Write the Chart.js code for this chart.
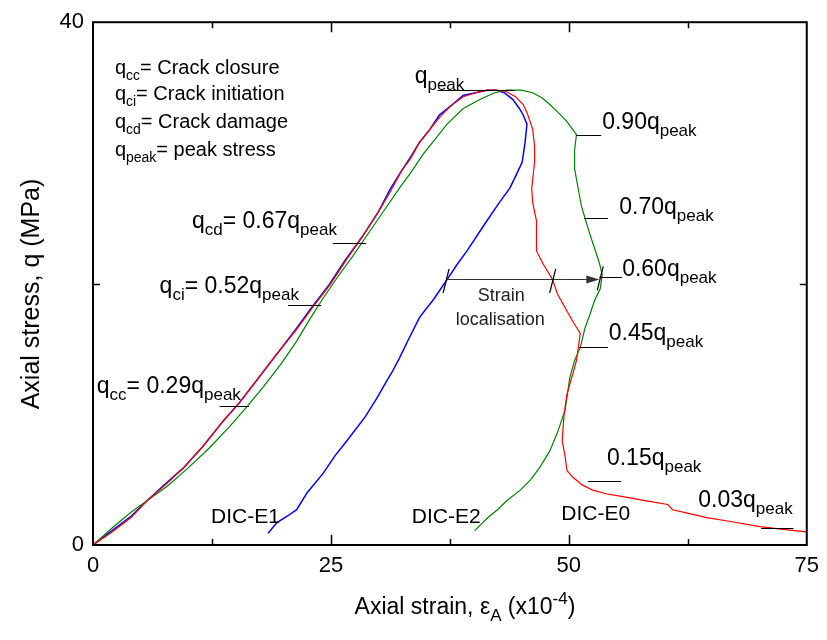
<!DOCTYPE html>
<html>
<head>
<meta charset="utf-8">
<script src="https://cdn.jsdelivr.net/npm/chart.js@4.4.1/dist/chart.umd.min.js"></script>
<style>
    html, body { margin: 0; padding: 0; background: #fff; }
    #box { width: 827px; height: 640px; }
</style>
</head>
<body>
<div id="box"><canvas id="myChart" width="827" height="640"></canvas></div>
<script>
// DIC-E1 (blue)
const e1X = [0, 2, 4, 5.7, 7.5, 9.5, 11.5, 13.7, 15.4, 17.2, 19.2, 21.2, 23, 24.8, 26.5, 28.3, 30, 31.2, 32.4, 33.3,
    34.3, 35.4, 36.4, 37.6, 38.9, 40.2, 41.4, 42.4, 43.2, 44.1, 44.8, 45.2, 45.6, 45.4, 45.1, 44.4, 43.8, 42.6, 41.2,
    39.3, 38.2, 37.2, 35.8, 34.3, 33.2, 32.2, 31.4, 30.9, 29.8, 28.6, 26.7, 25.4, 24.2, 22.5, 21.4, 20.4, 19.3, 18.4];
const e1Y = [0, 1.1, 2.2, 3.4, 4.6, 5.9, 7.5, 9.5, 10.9, 12.6, 14.5, 16.4, 18.2, 19.9, 21.8, 23.6, 25.5, 27.2, 28.6, 29.6,
    30.8, 31.8, 32.9, 33.6, 34.4, 34.6, 34.8, 34.8, 34.6, 34.1, 33.4, 32.9, 32.2, 30.8, 29.3, 28.2, 27.3, 26.1, 24.6,
    22.5, 21.4, 20.3, 18.8, 17.4, 15.8, 14.3, 13.2, 12.6, 11.2, 9.8, 8.0, 6.8, 5.5, 4.0, 2.7, 2.2, 1.7, 0.9];

// DIC-E0 (red)
const e0X = [0, 2, 4, 5.7, 7.6, 9.5, 11.6, 13.7, 15.4, 17.2, 19.2, 21.3, 23.1, 24.9, 26.6, 28.3, 30, 31.3, 32.4, 33.4,
    34.3, 35.4, 36.5, 37.6, 38.9, 40.2, 41.4, 42.4, 43.4, 44.4, 45.2, 45.6, 46.2, 46.4, 46.4, 46.1, 46.2, 46.6, 46.6,
    47.3, 48.3, 48.8, 49.8, 50.5, 51.2, 50.8, 50.3, 49.8, 49.5, 49.3, 49.6, 49.8, 50.4, 51.4, 52.5, 54, 55.7, 58,
    60.4, 60.9, 62.7, 64.5, 67, 70.1, 72.5, 75];
const e0Y = [0, 1.0, 2.1, 3.4, 4.6, 5.9, 7.6, 9.5, 10.9, 12.6, 14.5, 16.4, 18.2, 19.9, 21.8, 23.6, 25.5, 27.1, 28.6, 29.6,
    30.8, 31.8, 32.8, 33.6, 34.3, 34.6, 34.8, 34.8, 34.7, 34.3, 33.7, 33.1, 31.8, 30.5, 29.3, 27.3, 26.2, 24.8, 22.5,
    21.5, 20.3, 19.2, 17.9, 17.0, 16.2, 14.1, 12.8, 11.5, 10.0, 8.0, 6.8, 5.7, 5.2, 4.6, 4.2, 3.9, 3.7, 3.4,
    3.1, 2.7, 2.4, 2.1, 1.8, 1.4, 1.2, 1.0];

// DIC-E2 (green)
const e2X = [0, 2, 4, 5.7, 7.8, 10, 12.2, 14.4, 16.2, 17.9, 19.8, 21.4, 22.8, 24.2, 25.8, 27.3, 28.8, 30.4, 32.2, 33.5,
    34.7, 36, 37.2, 38.9, 40.7, 42.2, 43.5, 45, 46.2, 47.2, 48, 49, 49.8, 50.8, 50.6, 50.6, 51, 51.3, 51.7, 52.2,
    52.7, 53.2, 53.5, 53.3, 52.7, 52.2, 51.7, 51.2, 50.6, 50.1, 49.6, 48.8, 48, 47, 46, 44.9, 43.5, 42.5, 41.5, 40.8, 40.1];
const e2Y = [0, 1.3, 2.5, 3.4, 4.5, 5.9, 7.4, 9.1, 10.6, 12.1, 13.9, 15.6, 17.3, 18.9, 20.6, 22.1, 23.7, 25.4, 27.3, 28.6,
    29.9, 31.1, 32.2, 33.4, 34.1, 34.6, 34.8, 34.8, 34.6, 34.2, 33.7, 33.0, 32.4, 31.4, 30.2, 28.8, 27.2, 26.0, 25.0, 23.8,
    22.7, 21.6, 20.7, 19.6, 18.7, 17.6, 16.6, 15.1, 14.1, 12.8, 10.3, 8.6, 7.2, 6.0, 5.0, 4.2, 3.4, 2.7, 2.1, 1.6, 1.1];

const xTicks = [0, 25, 50, 75];
const yTicks = [0, 20, 40];
const yLabels = ['0', '', '40'];

const FONT = '"Liberation Sans", Arial, sans-serif';

function pts(xs, ys) {
    return xs.map((x, i) => ({x: x, y: ys[i]}));
}

// text with sub/superscripts: parts = [[text, 0 normal | 1 sub | 2 sup], ...]
function richWidth(c, parts, size) {
    let w = 0;
    parts.forEach(p => {
        c.font = (p[1] ? Math.round(size * 0.72) : size) + 'px ' + FONT;
        w += c.measureText(p[0]).width;
    });
    return w;
}

function drawRich(c, x, y, parts, size) {
    let cx = x;
    c.textAlign = 'left';
    c.textBaseline = 'alphabetic';
    parts.forEach(p => {
        let s = p[1] ? Math.round(size * 0.72) : size;
        let dy = p[1] === 1 ? size * 0.3 : (p[1] === 2 ? -size * 0.42 : 0);
        c.font = s + 'px ' + FONT;
        c.fillText(p[0], cx, y + dy);
        cx += c.measureText(p[0]).width;
    });
}

const legendLines = [
    [['q', 0], ['cc', 1], ['= Crack closure', 0]],
    [['q', 0], ['ci', 1], ['= Crack initiation', 0]],
    [['q', 0], ['cd', 1], ['= Crack damage', 0]],
    [['q', 0], ['peak', 1], ['= peak stress', 0]]
];

const notes = [
    {x: 33.8, y: 35.35, size: 23, parts: [['q', 0], ['peak', 1]]},
    {x: 53.5, y: 31.85, size: 23, parts: [['0.90q', 0], ['peak', 1]]},
    {x: 55.3, y: 25.3, size: 23, parts: [['0.70q', 0], ['peak', 1]]},
    {x: 55.6, y: 20.57, size: 23, parts: [['0.60q', 0], ['peak', 1]]},
    {x: 54.2, y: 15.7, size: 23, parts: [['0.45q', 0], ['peak', 1]]},
    {x: 54.0, y: 6.1, size: 23, parts: [['0.15q', 0], ['peak', 1]]},
    {x: 63.6, y: 2.9, size: 23, parts: [['0.03q', 0], ['peak', 1]]},
    {x: 10.4, y: 24.23, size: 23, parts: [['q', 0], ['cd', 1], ['= 0.67q', 0], ['peak', 1]]},
    {x: 7.0, y: 19.28, size: 23, parts: [['q', 0], ['ci', 1], ['= 0.52q', 0], ['peak', 1]]},
    {x: 0.4, y: 11.66, size: 23, parts: [['q', 0], ['cc', 1], ['= 0.29q', 0], ['peak', 1]]},
    {x: 12.4, y: 1.68, size: 21, parts: [['DIC-E1', 0]]},
    {x: 33.5, y: 1.68, size: 21, parts: [['DIC-E2', 0]]},
    {x: 49.2, y: 1.9, size: 21, parts: [['DIC-E0', 0]]}
];

// leader lines [x1, x2, y]
const leaders = [
    [36.2, 44.3, 34.82], [50.8, 53.4, 31.39], [51.6, 54.1, 24.99], [53.2, 55.6, 20.5],
    [51.1, 54.1, 15.16], [52.0, 55.5, 4.88], [70.2, 73.6, 1.3],
    [25.2, 28.7, 23.09], [20.5, 24.0, 18.36], [13.3, 16.4, 10.67]
];

const arrowFrom = [37.1, 20.34];
const arrowTo = [53.2, 20.34];
const slashes = [[37.1, 20.2], [48.3, 20.2], [53.3, 20.4]];

const decorPlugin = {
    id: 'decor',
    afterDraw(chart) {
        const c = chart.ctx;
        const xs = chart.scales.x, ys = chart.scales.y;
        const a = chart.chartArea;
        const px = v => xs.getPixelForValue(v);
        const py = v => ys.getPixelForValue(v);
        c.save();
        c.fillStyle = '#000';
        c.strokeStyle = '#000';

        // frame
        c.lineWidth = 2;
        c.strokeRect(a.left, a.top, a.right - a.left, a.bottom - a.top);

        // inner ticks, mirrored on top and right
        c.lineWidth = 1.5;
        c.beginPath();
        [12.5, 25, 37.5, 50, 62.5].forEach(v => {
            let len = (v % 25 === 0) ? 10 : 6;
            let x = Math.round(px(v)) + 0.5;
            c.moveTo(x, a.bottom); c.lineTo(x, a.bottom - len);
            c.moveTo(x, a.top); c.lineTo(x, a.top + len);
        });
        let y20 = Math.round(py(20)) + 0.5;
        c.moveTo(a.left, y20); c.lineTo(a.left + 7, y20);
        c.moveTo(a.right, y20); c.lineTo(a.right - 7, y20);
        c.stroke();

        // legend block
        legendLines.forEach((l, i) => drawRich(c, px(2.3), [74, 100, 128, 156][i], l, 20));

        // annotations
        notes.forEach(n => drawRich(c, px(n.x), py(n.y), n.parts, n.size));
        c.lineWidth = 1;
        c.beginPath();
        leaders.forEach(l => {
            let y = Math.round(py(l[2])) + 0.5;
            c.moveTo(px(l[0]), y); c.lineTo(px(l[1]), y);
        });
        c.stroke();

        // strain localisation arrow
        c.strokeStyle = '#333';
        c.fillStyle = '#333';
        c.lineWidth = 1.2;
        let ay = Math.round(py(arrowFrom[1])) + 0.5;
        let tip = px(arrowTo[0]);
        c.beginPath();
        c.moveTo(px(arrowFrom[0]), ay); c.lineTo(tip - 10, ay);
        c.stroke();
        c.beginPath();
        c.moveTo(tip, ay); c.lineTo(tip - 13, ay - 4); c.lineTo(tip - 13, ay + 4); c.closePath();
        c.fill();
        c.strokeStyle = '#000';
        c.beginPath();
        slashes.forEach(s => {
            let sx = px(s[0]), sy = py(s[1]);
            c.moveTo(sx - 3, sy + 12); c.lineTo(sx + 3, sy - 12);
        });
        c.stroke();
        c.fillStyle = '#222';
        c.font = '18px ' + FONT;
        c.textAlign = 'center';
        c.fillText('Strain', px(42.9), py(18.67));
        c.fillText('localisation', px(42.8), py(16.84));

        // axis titles
        c.fillStyle = '#000';
        const xt = [['Axial strain, \u03b5', 0], ['A', 1], [' (x10', 0], ['-4', 2], [')', 0]];
        let w = richWidth(c, xt, 23);
        drawRich(c, 465 - w / 2, 614, xt, 23);
        c.translate(39, 294);
        c.rotate(-Math.PI / 2);
        c.font = '25px ' + FONT;
        c.textAlign = 'center';
        c.fillText('Axial stress, q (MPa)', 0, 0);
        c.restore();
    }
};

const ctx = document.getElementById('myChart');

new Chart(ctx, {
    type   : 'scatter',
    data   : {
        datasets: [
            {label: 'DIC-E0', data: pts(e0X, e0Y), borderColor: '#ff0000', borderWidth: 1.2},
            {label: 'DIC-E2', data: pts(e2X, e2Y), borderColor: '#008000', borderWidth: 1.2},
            {label: 'DIC-E1', data: pts(e1X, e1Y), borderColor: '#0000ff', borderWidth: 1.5}
        ].map(d => Object.assign(d, {showLine: true, pointRadius: 0, tension: 0, fill: false}))
    },
    options: {
        responsive: false,
        animation : false,
        layout    : {padding: {left: 0, right: 19, top: 20, bottom: 0}},
        plugins   : {legend: {display: false}, tooltip: {enabled: false}},
        scales    : {
            x: {
                type: 'linear', min: 0, max: 75,
                afterBuildTicks: s => { s.ticks = xTicks.map(v => ({value: v})); },
                afterFit: s => { s.height = 95; },
                grid: {display: false, drawTicks: false},
                border: {display: false},
                ticks: {color: '#000', padding: 8, maxRotation: 0, font: {family: FONT, size: 22}}
            },
            y: {
                type: 'linear', min: 0, max: 40,
                afterBuildTicks: s => { s.ticks = yTicks.map(v => ({value: v})); },
                afterFit: s => { s.width = 93; },
                grid: {display: false, drawTicks: false},
                border: {display: false},
                ticks: {color: '#000', padding: 9, font: {family: FONT, size: 22},
                    callback: (v) => yLabels[yTicks.indexOf(v)]}
            }
        }
    },
    plugins: [decorPlugin]
});
</script>
</body>
</html>
